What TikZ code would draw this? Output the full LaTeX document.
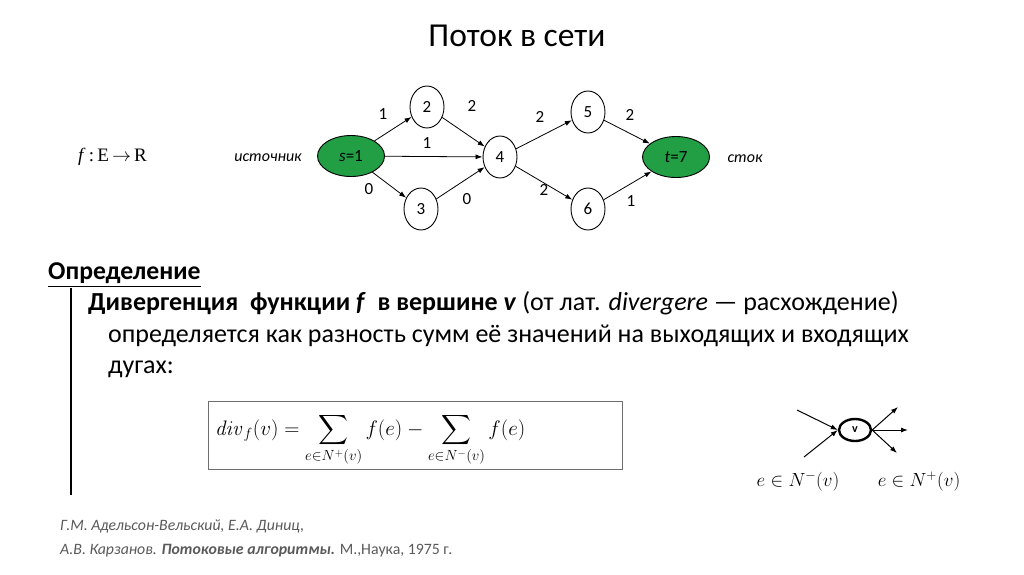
\RequirePackage{fix-cm}
\documentclass[tikz,border=0pt]{standalone}
\usepackage{exscale}
\usepackage[no-math]{fontspec}
\setmainfont{Carlito}
\newfontfamily\serifff{Liberation Serif}
\usetikzlibrary{shapes.geometric,arrows.meta}
\definecolor{nodegreen}{RGB}{34,158,68}
\definecolor{refgray}{RGB}{90,90,90}
\definecolor{boxgray}{RGB}{110,110,110}
\tikzset{
  vert/.style={draw=black, line width=0.9pt, ellipse, minimum width=34pt, minimum height=42pt, inner sep=0pt, font=\fontsize{17}{20}\selectfont},
  term/.style={vert, fill=nodegreen, minimum width=67pt, minimum height=41pt},
  arc/.style={-{Latex[length=7pt,width=5pt]}, line width=0.8pt},
  elab/.style={font=\fontsize{17}{20}\selectfont, inner sep=0pt},
  body/.style={anchor=base west, inner sep=0pt, font=\fontsize{26}{30}\selectfont},
  refs/.style={anchor=base west, inner sep=0pt, text=refgray, font=\fontsize{15.8}{18}\selectfont},
}
\begin{document}
\begin{tikzpicture}[x=1pt,y=-1pt]
\useasboundingbox[fill=white] (0,0) rectangle (1024,574);
% title
\node[anchor=base, inner sep=0pt, font=\fontsize{33.5}{38}\selectfont] (title) at (517,46) {Поток в сети};
% f : E -> R
\node[anchor=base west, inner sep=0pt, font=\fontsize{19}{22}\selectfont\serifff] (fmap) at (78,161) {\textit{f}\,:\,E\,$\rightarrow$\,R};
% graph
\node[term] (s) at (351,156) {\textit{s}=1};
\node[vert] (n2) at (427,107) {2};
\node[vert] (n3) at (421,209) {3};
\node[vert] (n4) at (500,157) {4};
\node[vert] (n5) at (588,112) {5};
\node[vert] (n6) at (588,209) {6};
\node[term] (t) at (676,157) {\textit{t}=7};
\node[elab, font=\fontsize{16}{19}\selectfont\itshape] (src) at (268,158) {источник};
\node[elab, font=\fontsize{16}{19}\selectfont\itshape] (snk) at (745,159) {сток};
\draw[arc] (s) -- (n2);
\draw[arc] (s) -- (n4);
\draw[arc] (s) -- (n3);
\draw[arc] (n2) -- (n4);
\draw[arc] (n3) -- (n4);
\draw[arc] (n4) -- (n5);
\draw[arc] (n4) -- (n6);
\draw[arc] (n5) -- (t);
\draw[arc] (n6) -- (t);
\node[elab] (l1) at (383,114) {1};
\node[elab] (l2) at (472,106) {2};
\node[elab] (l3) at (427,143) {1};
\node[elab] (l4) at (369,189) {0};
\node[elab] (l5) at (467,199) {0};
\node[elab] (l6) at (540,117) {2};
\node[elab] (l7) at (630,115) {2};
\node[elab] (l8) at (544,190) {2};
\node[elab] (l9) at (631,201) {1};
% definition
\node[body, font=\fontsize{25.7}{30}\selectfont\bfseries] (defh) at (48,279) {\underline{Определение}};
\draw[line width=2.2pt] (71,288) -- (71,495);
\node[body] (d1) at (88,310) {\textbf{Дивергенция\ \ функции \textit{f}\ \ в вершине \textit{v}} (от лат. \textit{divergere} — расхождение)};
\node[body] (d2) at (108,342) {определяется как разность сумм её значений на выходящих и входящих};
\node[body] (d3) at (108,373) {дугах:};
% formula box
\node[draw=boxgray, line width=1pt, minimum width=414pt, minimum height=68pt, inner sep=0pt] (fbox) at (415,435) {};
\node[anchor=west, inner sep=0pt, font=\fontsize{21}{25}\selectfont] (formula) at (215,440) {$\displaystyle \mathit{div}_f(v) = \sum_{e\in N^{+}(v)} f(e) - \sum_{e\in N^{-}(v)} f(e)$};
% small v diagram
\node[draw=black, line width=2.4pt, ellipse, minimum width=32pt, minimum height=22pt, inner sep=0pt, font=\fontsize{12}{14}\selectfont\bfseries] (v) at (855,430) {v};
\coordinate (i1) at (797,410);
\coordinate (i2) at (804,457);
\coordinate (o1) at (898,407);
\coordinate (o2) at (908,430);
\coordinate (o3) at (897,453);
\draw[arc, line width=1pt] (i1) -- (v.west);
\draw[arc, line width=1pt] (i2) -- (v.west);
\draw[arc, line width=1pt] (v.east) -- (o1);
\draw[arc, line width=1pt] (v.east) -- (o2);
\draw[arc, line width=1pt] (v.east) -- (o3);
\node[anchor=base, inner sep=0pt, font=\fontsize{19}{22}\selectfont] (nm) at (798,486) {$e\in N^{-}(v)$};
\node[anchor=base, inner sep=0pt, font=\fontsize{19}{22}\selectfont] (np) at (919,486) {$e\in N^{+}(v)$};
% references
\node[refs] (r1) at (60,530) {\textit{Г.М. Адельсон-Вельский, Е.А. Диниц,}};
\node[refs] (r2) at (60,554) {\textit{А.В. Карзанов. \textbf{Потоковые алгоритмы.}} М.,Наука, 1975 г.};
\end{tikzpicture}
\end{document}
